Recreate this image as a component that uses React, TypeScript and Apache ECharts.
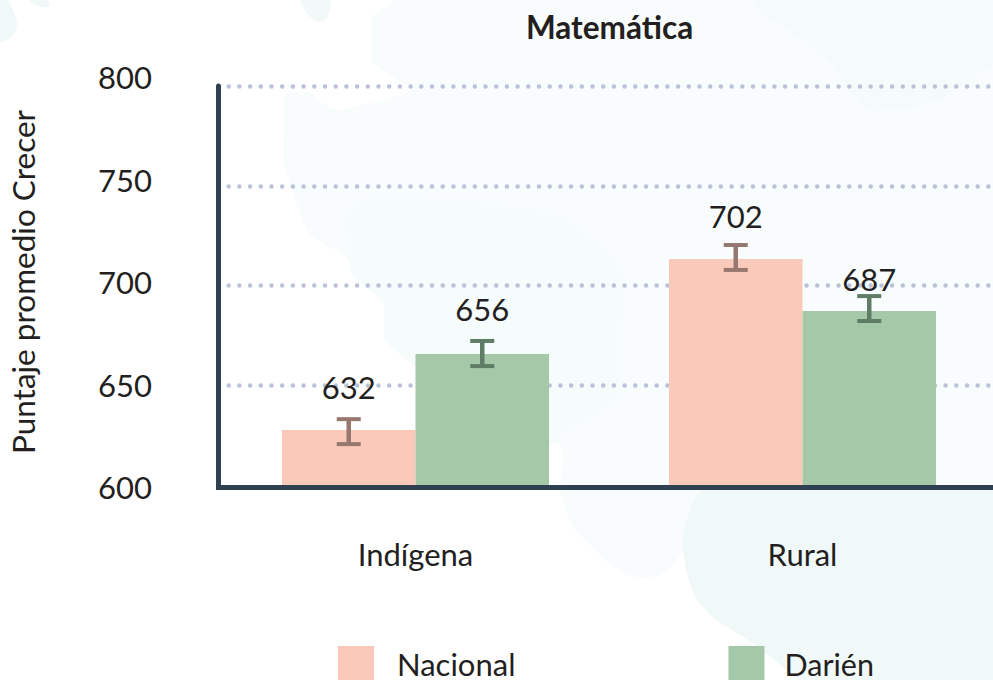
import React, { useEffect, useRef } from "react";
import * as echarts from "echarts";

const categories = ["Indígena", "Rural"];
const nacionalValues = [627.6, 713.3];
const darienValues = [665.7, 687.2];
const nacionalLow = [620.5, 707.8];
const nacionalHigh = [633, 720.3];
const darienLow = [659.6, 682.2];
const darienHigh = [672.2, 694.7];
const nacionalLabels = ["632", "702"];
const darienLabels = ["656", "687"];
const nacionalLabelAt = [649.3, 735];
const darienLabelAt = [688.4, 703.5];
const yTicks = [600, 800];

const FONT = "Lato";
const TEXT = "#231f20";

const BLOB_MAIN =
  "M395 0 C385 8 375 12 372 17 L372 62 C380 70 392 78 414 88 C405 96 386 100 340 110 C325 108 315 98 311 92 L288 93 C284 96 284 100 284 103 L283 157 C286 172 290 185 295 200 C300 212 303 224 309 233 C322 245 340 250 349 260 C351 266 350 272 353 277 C365 288 378 295 384 303 L384 340 C395 350 405 358 416 367 L549 443 L558 443 C562 448 563 452 563 457 L560 490 C564 505 568 520 575 530 C590 545 600 556 613 567 C625 574 635 578 643 578 C652 578 662 575 667 570 C676 562 680 556 683 550 L700 490 L993 490 L993 0 Z";
const BLOB_SOUTH =
  "M702 490 C697 494 694 498 693 503 C686 520 683 533 683 547 C684 565 690 588 697 600 C706 612 716 621 727 627 C750 640 775 660 797 680 L993 680 L993 490 Z";
const BLOB_NE =
  "M752 0 C756 5 760 9 762 13 C790 30 815 48 835 67 C848 85 858 100 868 110 C890 112 915 108 938 100 C958 88 978 75 993 63 L993 0 Z";
const BLOB_MID =
  "M353 205 C362 198 367 197 380 197 C440 197 510 205 564 217 C590 235 610 255 625 273 C622 295 622 320 620 340 L620 400 L549 443 L416 367 C405 358 395 350 384 340 L384 303 C378 295 365 288 353 277 C350 272 351 266 349 260 L345 215 Z";
const BLOB_TOP = "M300 0 C304 14 314 22 320 22 C328 22 331 10 331 0 Z";
const BLOB_CORNER = "M0 42 C10 42 18 32 17 22 C14 10 10 4 8 0 L0 0 Z";
const BLOB_CORNER_B = "M29 0 C34 5 42 8 48 7 C51 6 50 2 47 0 Z";

const shapes: [string, string][] = [
  ["blobMain", BLOB_MAIN],
  ["blobSouth", BLOB_SOUTH],
  ["blobNe", BLOB_NE],
  ["blobMid", BLOB_MID],
  ["blobTop", BLOB_TOP],
  ["blobCorner", BLOB_CORNER],
  ["blobCornerB", BLOB_CORNER_B],
];
shapes.forEach(([n, d]) => echarts.graphic.registerShape(n, echarts.graphic.extendPath(d as any, {}) as any));

function errorSeries(name: string, low: number[], high: number[], side: number, color: string) {
  return {
    type: "custom",
    name,
    data: low.map((l, i) => [i, l, high[i]]),
    z: 5,
    silent: true,
    encode: { x: 0, y: [1, 2] },
    renderItem: (_p: any, api: any) => {
      const band = api.size([1, 0])[0];
      const lo = api.coord([api.value(0), api.value(1)]);
      const hi = api.coord([api.value(0), api.value(2)]);
      const x = lo[0] + side * band * 0.1725;
      const style = { stroke: color, lineWidth: 4.5, fill: "none" };
      return {
        type: "group",
        children: [
          { type: "line", shape: { x1: x, y1: lo[1], x2: x, y2: hi[1] }, style },
          { type: "line", shape: { x1: x - 12, y1: lo[1], x2: x + 12, y2: lo[1] }, style: { ...style, lineWidth: 4 } },
          { type: "line", shape: { x1: x - 12, y1: hi[1], x2: x + 12, y2: hi[1] }, style: { ...style, lineWidth: 4 } },
        ],
      };
    },
  };
}

function labelSeries(name: string, at: number[], labels: string[], side: number) {
  return {
    type: "custom",
    name,
    data: at.map((v, i) => [i, v]),
    z: 6,
    silent: true,
    encode: { x: 0, y: 1 },
    renderItem: (p: any, api: any) => {
      const band = api.size([1, 0])[0];
      const c = api.coord([api.value(0), api.value(1)]);
      return {
        type: "text",
        x: c[0] + side * band * 0.1725,
        y: c[1],
        style: {
          text: labels[p.dataIndex],
          fill: TEXT,
          font: `400 31px ${FONT}`,
          textAlign: "center",
          textVerticalAlign: "middle",
        },
      };
    },
  };
}

export default function App() {
  const ref = useRef<HTMLDivElement>(null);
  useEffect(() => {
    const chart = echarts.init(ref.current!, null, { renderer: "svg" });
    chart.setOption({
      animation: false,
      backgroundColor: "#ffffff",
      textStyle: { fontFamily: FONT },
      title: {
        text: "Matemática",
        left: 521,
        top: 6,
        padding: 5,
        textStyle: { fontFamily: FONT, fontSize: 31.5, fontWeight: 700, color: TEXT },
      },
      legend: {
        left: 338,
        top: 646,
        padding: 0,
        itemWidth: 36,
        itemHeight: 36,
        itemGap: 213,
        selectedMode: false,
        icon: "rect",
        data: [
          { name: "Nacional", textStyle: { padding: [0, 0, 0, 18] } },
          { name: "Darién", textStyle: { padding: [0, 0, 0, 15], fontSize: 30.5 } },
        ],
        textStyle: { fontFamily: FONT, fontSize: 31, color: TEXT },
      },
      graphic: [
        { type: "blobMain", x: 0, y: 0, z: -10, silent: true, style: { fill: "#f8fcfd" } },
        { type: "blobMid", x: 0, y: 0, z: -9, silent: true, style: { fill: "#f6fbfb" } },
        { type: "blobNe", x: 0, y: 0, z: -9, silent: true, style: { fill: "#f5fbfa" } },
        { type: "blobSouth", x: 0, y: 0, z: -8, silent: true, style: { fill: "#f1f9f8" } },
        { type: "blobTop", x: 0, y: 0, z: -9, silent: true, style: { fill: "#f3f9f9" } },
        { type: "blobCorner", x: 0, y: 0, z: -9, silent: true, style: { fill: "#f0f9f8" } },
        { type: "blobCornerB", x: 0, y: 0, z: -9, silent: true, style: { fill: "#f0f9f8" } },
        { type: "rect", z: 1, silent: true, shape: { x: 216, y: 485, width: 8, height: 5 }, style: { fill: "#2f4052" } },
      ],
      grid: [
        { left: 222, top: 86, width: 774, height: 399, outerBoundsMode: "none" },
        { left: 222, top: 77, width: 774, height: 410, outerBoundsMode: "none" },
      ],
      xAxis: [
        {
          type: "category",
          gridIndex: 0,
          data: categories,
          offset: 2.5,
          axisTick: { show: false },
          axisLine: { lineStyle: { color: "#2f4052", width: 5 } },
          axisLabel: { margin: 51, fontFamily: FONT, fontSize: 31, color: TEXT },
        },
        { type: "category", gridIndex: 1, data: categories, show: false },
      ],
      yAxis: [
        {
          type: "value",
          gridIndex: 0,
          min: 600,
          max: 800,
          interval: 50,
          offset: 4,
          axisLabel: { show: false },
          axisTick: { show: false },
          axisLine: { show: true, lineStyle: { color: "#2f4052", width: 5, cap: "round" } },
          splitLine: {
            show: true,
            showMinLine: false,
            lineStyle: { color: "#b9c2d8", width: 4.5, type: [0, 10.7], dashOffset: 4.4, cap: "round" },
          },
        },
        {
          type: "value",
          gridIndex: 1,
          min: yTicks[0],
          max: yTicks[1],
          interval: 50,
          axisLine: { show: false },
          axisTick: { show: false },
          splitLine: { show: false },
          axisLabel: { margin: 70, fontFamily: FONT, fontSize: 31, color: TEXT },
          name: "Puntaje promedio Crecer",
          nameLocation: "middle",
          nameGap: 183,
          nameTextStyle: { fontFamily: FONT, fontSize: 31.5, color: TEXT },
        },
      ],
      series: [
        {
          type: "bar",
          name: "Nacional",
          data: nacionalValues,
          barWidth: "34.5%",
          barGap: 0,
          itemStyle: { color: "#fbc9b9" },
          z: 3,
        },
        {
          type: "bar",
          name: "Darién",
          data: darienValues,
          barWidth: "34.5%",
          barGap: 0,
          itemStyle: { color: "#a5c8a8" },
          z: 3,
        },
        errorSeries("err-nacional", nacionalLow, nacionalHigh, -1, "#97786f"),
        errorSeries("err-darien", darienLow, darienHigh, 1, "#5f7d66"),
        labelSeries("lab-nacional", nacionalLabelAt, nacionalLabels, -1),
        labelSeries("lab-darien", darienLabelAt, darienLabels, 1),
      ],
    });
    return () => chart.dispose();
  }, []);
  return (
    <div
      ref={ref}
      style={{ position: "fixed", left: 0, top: 0, width: 993, height: 680, overflow: "hidden" }}
    />
  );
}
